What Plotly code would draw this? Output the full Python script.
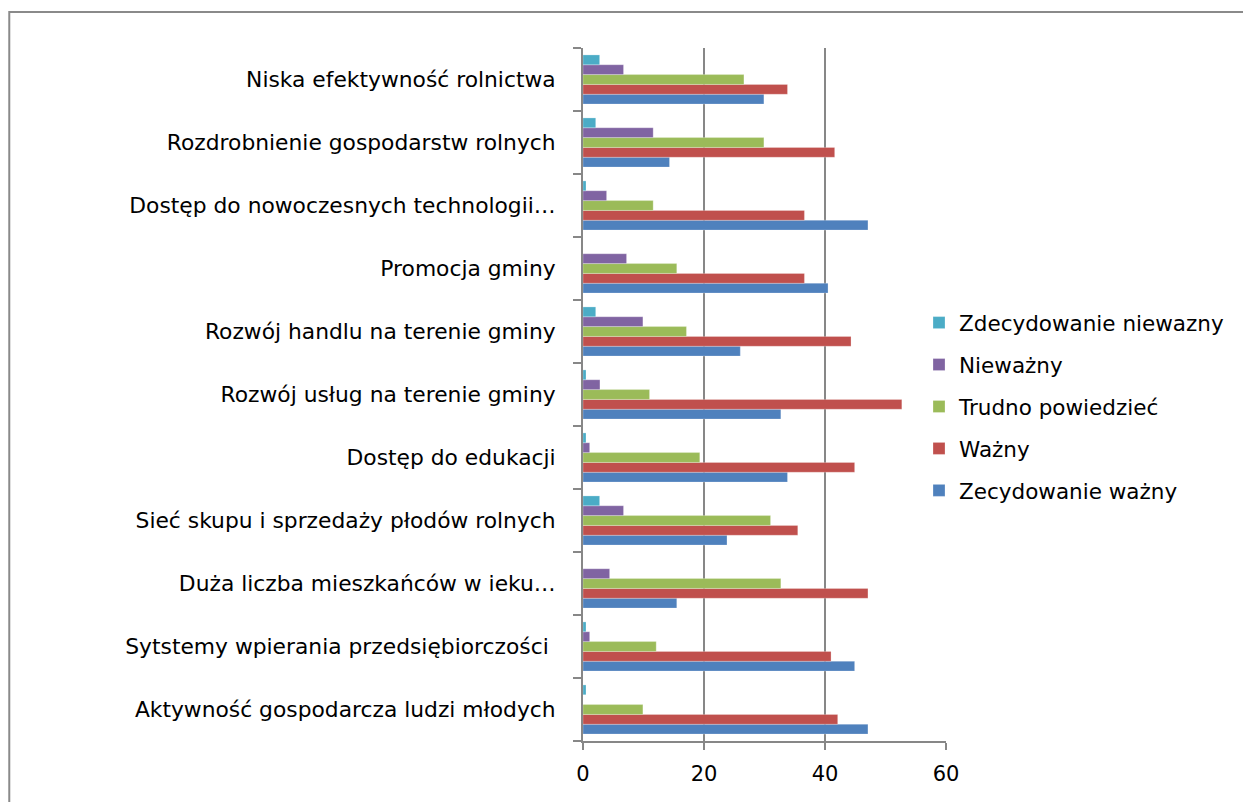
import plotly.graph_objects as go

# categories listed bottom-to-top (as in the source chart)
categories = [
    "Aktywność gospodarcza ludzi młodych",
    "Sytstemy wpierania przedsiębiorczości ",
    "Duża liczba mieszkańców w ieku…",
    "Sieć skupu i sprzedaży płodów rolnych",
    "Dostęp do edukacji",
    "Rozwój usług na terenie gminy",
    "Rozwój handlu na terenie gminy",
    "Promocja gminy",
    "Dostęp do nowoczesnych technologii…",
    "Rozdrobnienie gospodarstw rolnych",
    "Niska efektywność rolnictwa",
]

zecydowanie_wazny = [47.1, 44.9, 15.5, 23.8, 33.8, 32.7, 26.0, 40.5, 47.1, 14.3, 29.9]
wazny = [42.1, 41.0, 47.1, 35.5, 44.9, 52.7, 44.3, 36.6, 36.6, 41.6, 33.8]
trudno_powiedziec = [9.9, 12.1, 32.7, 31.0, 19.3, 11.0, 17.1, 15.5, 11.6, 29.9, 26.6]
niewazny = [0.0, 1.1, 4.4, 6.7, 1.1, 2.8, 9.9, 7.2, 3.9, 11.6, 6.7]
zdecydowanie_niewazny = [0.5, 0.5, 0.0, 2.75, 0.5, 0.5, 2.1, 0.0, 0.5, 2.1, 2.75]

series = [
    ("Zecydowanie ważny", zecydowanie_wazny, "#4F81BD"),
    ("Ważny", wazny, "#C0504D"),
    ("Trudno powiedzieć", trudno_powiedziec, "#9BBB59"),
    ("Nieważny", niewazny, "#8064A2"),
    ("Zdecydowanie niewazny", zdecydowanie_niewazny, "#4BACC6"),
]

x_ticks = [0, 20, 40, 60]

GRAY = "#878787"
FONT = "DejaVu Sans"

fig = go.Figure()
n = len(series)
for i, (name, vals, color) in enumerate(series):
    fig.add_trace(go.Bar(
        y=categories, x=vals, name=name, orientation="h",
        legendgroup=f"g{i}", legendrank=n - i,
        marker=dict(color=color, line=dict(color="rgba(255,255,255,0.5)", width=0.5)),
    ))

W, H = 1243, 802
L, R = 582.7, 946.0
T, B = 48.0, 740.7
pw, ph = R - L, B - T

def px_to_paper_x(p):
    return (p - L) / pw

def px_to_paper_y(p):
    return (B - p) / ph

fig.update_layout(
    width=W, height=H,
    margin=dict(l=L, r=W - R, t=T, b=H - B, autoexpand=False),
    paper_bgcolor="white", plot_bgcolor="white",
    barmode="group", bargap=0.22, bargroupgap=0,
    font=dict(family=FONT, size=21, color="black"),
    showlegend=True,
    legend=dict(
        traceorder="grouped",
        x=px_to_paper_x(919), xanchor="left",
        y=px_to_paper_y(302), yanchor="top",
        font=dict(family=FONT, size=21.5, color="black"),
        bgcolor="rgba(0,0,0,0)", borderwidth=0,
        itemwidth=30, tracegroupgap=11,
    ),
    xaxis=dict(
        range=[0, 60], tickvals=x_ticks, ticktext=[str(v) for v in x_ticks],
        showgrid=True, gridcolor=GRAY, gridwidth=2,
        showline=True, linecolor=GRAY, linewidth=2,
        ticks="outside", ticklen=7, tickwidth=2, tickcolor=GRAY,
        ticklabelstandoff=6,
        zeroline=False, fixedrange=True,
        tickfont=dict(family=FONT, size=21, color="black"),
    ),
    yaxis=dict(
        type="category", categoryorder="array", categoryarray=categories,
        showgrid=False, showline=True, linecolor=GRAY, linewidth=2,
        ticks="outside", ticklen=8, tickwidth=2, tickcolor=GRAY,
        tickson="boundaries", ticklabelstandoff=21,
        zeroline=False, fixedrange=True,
        tickfont=dict(family=FONT, size=21.8, color="black"),
    ),
    shapes=[dict(
        type="rect", xref="paper", yref="paper",
        x0=px_to_paper_x(8.5), x1=px_to_paper_x(1300),
        y0=px_to_paper_y(850), y1=px_to_paper_y(12),
        line=dict(color="#8a8a8a", width=2), fillcolor="rgba(0,0,0,0)",
        layer="below",
    )],
)

fig.write_html(
    "out.html",
    config={"displayModeBar": False},
    post_script="document.body.style.margin='0';document.body.style.overflow='hidden';",
)
